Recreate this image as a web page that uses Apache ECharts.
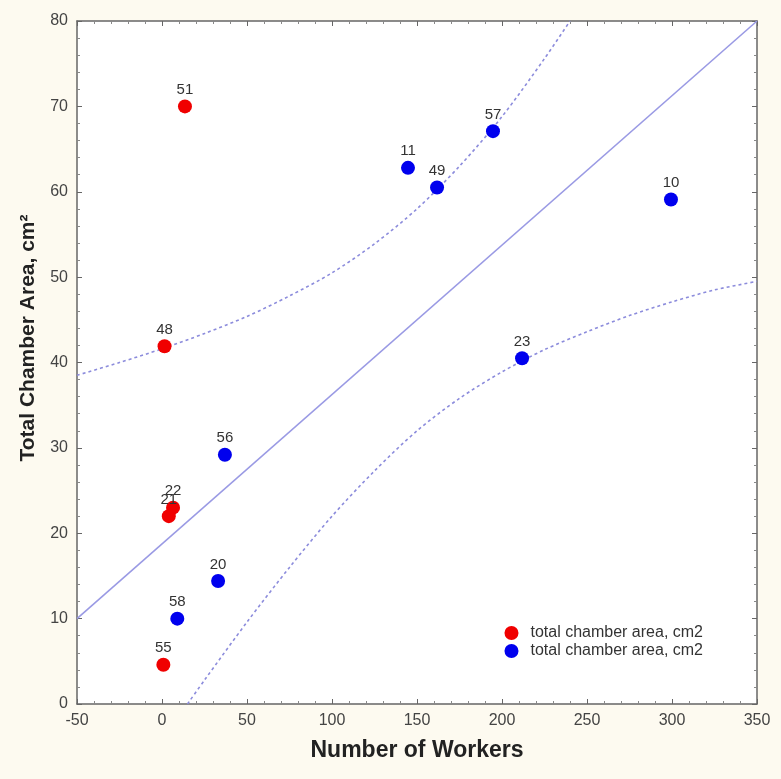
<!DOCTYPE html>
<html><head><meta charset="utf-8">
<script src="https://cdn.jsdelivr.net/npm/echarts@6/dist/echarts.min.js"></script>
<style>html,body{margin:0;padding:0;background:#fdfaf0}#c{width:781px;height:779px}</style>
</head><body><div id="c"></div>
<script>
// Red points
const redX = [13.5, 1.5, 6.5, 4, 0.8];
const redY = [70, 41.9, 23, 22, 4.6];
const redLabels = ['51', '48', '22', '21', '55'];
// Blue points
const blueX = [144.7, 161.8, 194.7, 299.4, 211.8, 37, 33, 9];
const blueY = [62.8, 60.5, 67.1, 59.1, 40.5, 29.2, 14.4, 10];
const blueLabels = ['11', '49', '57', '10', '23', '56', '20', '58'];
// Regression line
const fitX = [-50, 350];
const fitY = [10, 80];
// Upper confidence curve
const upX = [-50, -25, 0, 25, 50, 75, 100, 125, 150, 175, 200, 225, 240];
const upY = [38.5, 40.0, 41.6, 43.4, 45.4, 47.8, 50.5, 53.9, 58.0, 63.0, 68.8, 75.6, 80];
// Lower confidence curve
const loX = [15, 25, 50, 75, 100, 125, 150, 175, 200, 225, 250, 275, 300, 325, 350];
const loY = [0, 2.8, 9.6, 16.0, 22.0, 27.3, 32.0, 35.8, 38.9, 41.5, 43.6, 45.5, 47.1, 48.5, 49.5];
// Axis
const xTicks = {min: -50, max: 350, interval: 50};
const yTicks = {min: 0, max: 80, interval: 10};
const legendName = 'total chamber area, cm2';
const xTitle = 'Number of Workers';
const yTitle = 'Total Chamber Area, cm²';

const zip = (a, b, l) => a.map((v, i) => l ? {value: [v, b[i]], label: {formatter: l[i]}} : [v, b[i]]);
const chart = echarts.init(document.getElementById('c'));
const axisCommon = {
  axisLine: {onZero: false, lineStyle: {color: '#666', width: 1.5}},
  axisTick: {inside: true, length: 5, lineStyle: {color: '#666'}},
  minorTick: {show: true, splitNumber: 5, length: 3, lineStyle: {color: '#888'}},
  splitLine: {show: false},
};
const lineColor = '#9a9ae4';
const dotColor = '#8c8cdc';
const ff = 'Liberation Sans, Arial, sans-serif';
chart.setOption({
  backgroundColor: '#fdfaf0',
  animation: false,
  textStyle: {fontFamily: ff},
  grid: {left: 77, right: 24, top: 21, bottom: 75, show: true, backgroundColor: '#ffffff', borderWidth: 0},
  legend: {
    right: 73, bottom: 115, orient: 'vertical', itemGap: 2, itemWidth: 14, itemHeight: 14,
    data: [{name: 'red', icon: 'circle'}, {name: 'blue', icon: 'circle'}],
    formatter: () => legendName,
    textStyle: {fontSize: 16, color: '#333', padding: [0, 0, 0, 7]}
  },
  graphic: [{
    type: 'text', x: 28, y: 338, rotation: Math.PI / 2,
    style: {text: yTitle, font: 'bold 21px ' + ff, fill: '#222', align: 'center', verticalAlign: 'middle', textAlign: 'center', textVerticalAlign: 'middle'}
  }],
  xAxis: [
    Object.assign({type: 'value', min: xTicks.min, max: xTicks.max, interval: xTicks.interval,
      name: xTitle, nameLocation: 'middle', nameGap: 35,
      nameTextStyle: {fontSize: 23, fontWeight: 'bold', color: '#222'},
      axisLabel: {fontSize: 16, color: '#444', margin: 9}}, axisCommon),
    Object.assign({type: 'value', position: 'top', min: xTicks.min, max: xTicks.max, interval: xTicks.interval,
      axisLabel: {show: false}}, axisCommon)
  ],
  yAxis: [
    Object.assign({type: 'value', min: yTicks.min, max: yTicks.max, interval: yTicks.interval,
      axisLabel: {fontSize: 16, color: '#444', margin: 9}}, axisCommon),
    Object.assign({type: 'value', position: 'right', min: yTicks.min, max: yTicks.max, interval: yTicks.interval,
      axisLabel: {show: false}}, axisCommon)
  ],
  series: [
    {type: 'line', data: zip(fitX, fitY), symbol: 'none', lineStyle: {color: lineColor, width: 1.6}, z: 1, silent: true},
    {type: 'line', data: zip(upX, upY), smooth: 0.3, symbol: 'none', lineStyle: {color: dotColor, width: 1.6, type: [3, 3]}, z: 1, silent: true},
    {type: 'line', data: zip(loX, loY), smooth: 0.3, symbol: 'none', lineStyle: {color: dotColor, width: 1.6, type: [3, 3]}, z: 1, silent: true},
    {name: 'red', type: 'scatter', symbolSize: 14, itemStyle: {color: '#f00000', opacity: 1},
      label: {show: true, position: 'top', distance: 2, fontSize: 15, color: '#333'},
      data: zip(redX, redY, redLabels), z: 3},
    {name: 'blue', type: 'scatter', symbolSize: 14, itemStyle: {color: '#0000ee', opacity: 1},
      label: {show: true, position: 'top', distance: 2, fontSize: 15, color: '#333'},
      data: zip(blueX, blueY, blueLabels), z: 3}
  ]
});
</script></body></html>
